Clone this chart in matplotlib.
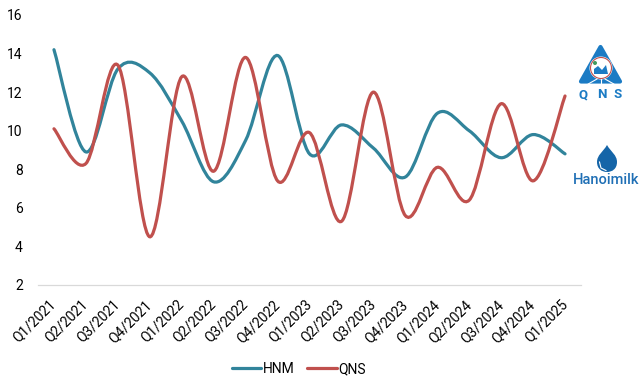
import numpy as np
import matplotlib
matplotlib.use("Agg")
import matplotlib.pyplot as plt
from matplotlib.path import Path
from matplotlib.patches import PathPatch, Circle, Polygon
from matplotlib.lines import Line2D
from matplotlib.transforms import ScaledTranslation

plt.rcParams['font.family'] = ['Roboto', 'DejaVu Sans']

quarters = ["Q1/2021", "Q2/2021", "Q3/2021", "Q4/2021", "Q1/2022", "Q2/2022",
            "Q3/2022", "Q4/2022", "Q1/2023", "Q2/2023", "Q3/2023", "Q4/2023",
            "Q1/2024", "Q2/2024", "Q3/2024", "Q4/2024", "Q1/2025"]
hnm = [14.2, 8.9, 13.2, 13.0, 10.5, 7.35, 9.5, 13.9, 8.8, 10.3, 9.1, 7.6, 10.9, 10.0, 8.6, 9.8, 8.8]
qns = [10.1, 8.3, 13.4, 4.5, 12.8, 7.9, 13.8, 7.4, 9.9, 5.3, 12.0, 5.6, 8.1, 6.4, 11.4, 7.4, 11.8]
yticks = [2, 4, 6, 8, 10, 12, 14, 16]

W, H = 639, 390
BLUE = "#1b7bc4"
TEAL = "#31849b"
RED = "#c0504d"


def smooth_path(ys):
    # excel style smoothed line, bezier segments through the points
    xs = np.arange(len(ys), dtype=float)
    ys = np.asarray(ys, dtype=float)
    verts = [(xs[0], ys[0])]
    codes = [Path.MOVETO]
    for i in range(len(ys) - 1):
        i0 = max(i - 1, 0)
        i3 = min(i + 2, len(ys) - 1)
        c1 = (xs[i] + (xs[i + 1] - xs[i0]) / 6, ys[i] + (ys[i + 1] - ys[i0]) / 6)
        c2 = (xs[i + 1] - (xs[i3] - xs[i]) / 6, ys[i + 1] - (ys[i3] - ys[i]) / 6)
        verts += [c1, c2, (xs[i + 1], ys[i + 1])]
        codes += [Path.CURVE4] * 3
    return Path(verts, codes)


fig = plt.figure(figsize=(W / 100, H / 100), dpi=100)
ax = fig.add_axes([38 / W, 1 - 285 / H, (581 - 38) / W, (285 - 15) / H])

for vals, col in [(hnm, TEAL), (qns, RED)]:
    ax.add_patch(PathPatch(smooth_path(vals), fc="none", ec=col, lw=2.3,
                           capstyle="round", clip_on=False))

ax.set_xlim(-0.5, len(quarters) - 0.5)
ax.set_ylim(2, 16)
ax.set_yticks(yticks)
ax.set_xticks(range(len(quarters)))
ax.set_xticklabels(quarters, rotation=45, ha="right", rotation_mode="anchor", fontsize=10)
ax.tick_params(axis="both", length=0, labelsize=10, labelcolor="black")
ax.tick_params(axis="y", pad=11)
ax.tick_params(axis="x", pad=6)
shift = ScaledTranslation(-5 / 100, -4 / 100, fig.dpi_scale_trans)
for lab in ax.get_xticklabels():
    lab.set_transform(lab.get_transform() + shift)
for s in ["top", "right", "left"]:
    ax.spines[s].set_visible(False)
ax.spines["bottom"].set_color("#d9d9d9")
ax.spines["bottom"].set_linewidth(0.9)

handles = [Line2D([], [], color=TEAL, lw=2.3, solid_capstyle="round"),
           Line2D([], [], color=RED, lw=2.3, solid_capstyle="round")]
fig.legend(handles, ["HNM", "QNS"], loc="center", bbox_to_anchor=(299 / W, 1 - 369 / H),
           ncol=2, frameon=False, fontsize=10, handlelength=2.1, handletextpad=0.15,
           columnspacing=0.9, borderpad=0)

# logos, drawn in pixel coords on an overlay
ov = fig.add_axes([0, 0, 1, 1])
ov.set_xlim(0, W)
ov.set_ylim(H, 0)
ov.axis("off")
ov.patch.set_alpha(0)

ov.add_patch(Polygon([(600.5, 47), (581, 81.5), (620, 81.5)], closed=True, fc=BLUE, ec=BLUE,
                     lw=3, joinstyle="round"))
ov.add_patch(Circle((601, 68), 11.5, fc="white", ec="none"))
ov.add_patch(Circle((601, 68), 10.5, fc="none", ec="#c0504d", lw=0.8))
ov.add_patch(Polygon([(594, 74), (594, 69), (598, 66), (602, 70), (606, 65), (608, 74)],
                     closed=True, fc=BLUE, ec="none"))
ov.add_patch(Circle((595, 63), 2, fc="#3f9a5f", ec="none"))
for dx in [-8, 0, 8]:
    ov.add_line(Line2D([601 + dx * 0.5, 601 + dx * 1.6], [79, 84], color="white", lw=0.8))
for lx, ch in [(583, "Q"), (602, "N"), (618, "S")]:
    ov.text(lx, 95, ch, color=BLUE, fontsize=9.5, fontweight="bold", ha="center", va="center")

drop = Path([(607, 145), (603, 152), (597, 155), (597, 162), (597, 169), (602, 172),
             (607, 172), (612, 172), (617, 169), (617, 162), (617, 155), (611, 152), (607, 145)],
            [Path.MOVETO] + [Path.CURVE4] * 12)
ov.add_patch(PathPatch(drop, fc="#1565a8", ec="none"))
ov.add_line(Line2D([599.5, 601, 606], [162, 168, 170.5], color="white", lw=0.8))
ov.text(606, 180, "Hanoimilk", color="#1f6fb5", fontsize=10.5, fontweight="medium",
        ha="center", va="center")

fig.savefig("out.png", dpi=100)
